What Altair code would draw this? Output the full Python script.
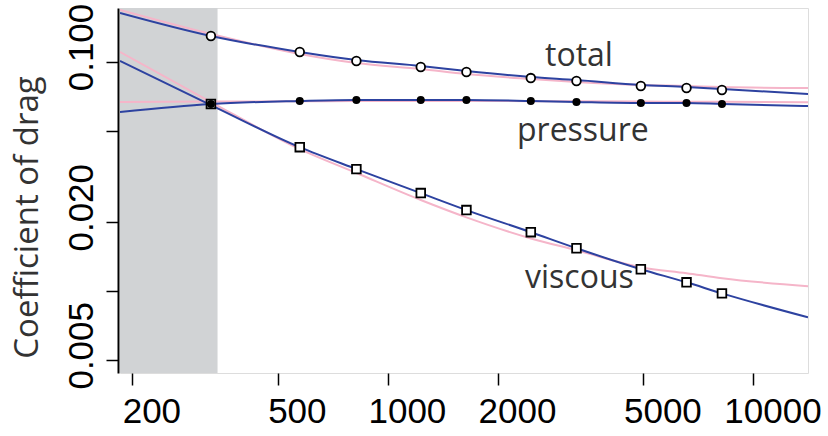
import altair as alt
import pandas as pd

# Measured drag coefficients against Reynolds number
re_obs = [328, 574, 820, 1230, 1640, 2460, 3280, 4920, 6560, 8200]
cd_total = [0.1299, 0.1106, 0.1010, 0.0951, 0.0904, 0.0851, 0.0826, 0.0786, 0.0770, 0.0755]
cd_pressure = [0.0656, 0.0676, 0.0683, 0.0683, 0.0683, 0.0676, 0.0669, 0.0662, 0.0662, 0.0656]
cd_viscous = [0.0656, 0.0425, 0.0341, 0.0268, 0.0226, 0.0181, 0.0154, 0.01248, 0.01094, 0.00979]

# Two fitted models evaluated across the plotted range
re_fit = [185, 328, 574, 820, 1230, 1640, 2460, 3280, 4920, 6560, 8200, 14100]
model_a = {
    "total": [0.1637, 0.1299, 0.1106, 0.1020, 0.0960, 0.0913, 0.0860, 0.0835, 0.0794, 0.0778, 0.0762, 0.0725],
    "pressure": [0.0605, 0.0656, 0.0676, 0.0683, 0.0683, 0.0683, 0.0676, 0.0669, 0.0662, 0.0662, 0.0656, 0.0642],
    "viscous": [0.1010, 0.0649, 0.0425, 0.0341, 0.0268, 0.0226, 0.0181, 0.0154, 0.01248, 0.01094, 0.00979, 0.00770],
}
model_b = {
    "total": [0.1686, 0.1325, 0.1084, 0.0990, 0.0932, 0.0886, 0.0843, 0.0818, 0.0794, 0.0786, 0.0778, 0.0770],
    "pressure": [0.0669, 0.0672, 0.0674, 0.0676, 0.0676, 0.0676, 0.0675, 0.0674, 0.0672, 0.0671, 0.0670, 0.0668],
    "viscous": [0.1106, 0.0669, 0.0417, 0.0328, 0.0250, 0.0210, 0.0170, 0.0151, 0.01273, 0.01199, 0.01140, 0.01052],
}

# Low-Reynolds range excluded from the fit
re_excluded = [185, 342]

x_ticks = [200, 500, 1000, 2000, 5000, 10000]
y_ticks = [0.005, 0.01, 0.02, 0.05, 0.1]
y_labelled = ["0.100", "0.020", "0.005"]

x_domain = [185, 14100]
y_domain = [0.0044, 0.172]

# Curve labels
label_text = ["total", "pressure", "viscous"]
label_re = [2690, 2255, 2372]
label_cd = [0.0960, 0.0452, 0.0103]

obs = pd.DataFrame({
    "re": re_obs * 3,
    "cd": cd_total + cd_pressure + cd_viscous,
    "component": ["total"] * 10 + ["pressure"] * 10 + ["viscous"] * 10,
})

fit_rows = []
for model_name, model in (("b", model_b), ("a", model_a)):
    for comp, vals in model.items():
        for r, c in zip(re_fit, vals):
            fit_rows.append({"re": r, "cd": c, "component": comp, "model": model_name})
fits = pd.DataFrame(fit_rows)

band = pd.DataFrame({"x1": [re_excluded[0]], "x2": [re_excluded[1]],
                     "y1": [y_domain[0]], "y2": [y_domain[1]]})
labels = pd.DataFrame({"re": label_re, "cd": label_cd, "text": label_text})

label_expr = ("indexof(" + str(y_labelled).replace("'", '"') +
              ", format(datum.value, '.3f')) >= 0 ? format(datum.value, '.3f') : ''")

x_scale = alt.Scale(type="log", domain=x_domain, nice=False)
y_scale = alt.Scale(type="log", domain=y_domain, nice=False)

x_axis = alt.Axis(
    values=x_ticks, format="d", title=None, grid=False, domain=False,
    labelFont="Liberation Sans", labelFontSize=35, labelColor="black",
    tickSize=12, tickColor="black", tickWidth=1.5, labelPadding=9,
    labelOffset=19, labelFlush=False, labelOverlap=False, labelBaseline="top",
)
y_axis = alt.Axis(
    values=y_ticks, labelExpr=label_expr, grid=False,
    domain=True, domainColor="black", domainWidth=2, offset=2,
    labelFont="Liberation Sans", labelFontSize=35, labelColor="black",
    labelAngle=270, labelAlign="center", labelBaseline="alphabetic",
    labelPadding=14, labelOffset=-15, labelFlush=False, labelOverlap=False,
    tickSize=12, tickColor="black", tickWidth=1.5,
    title="Coefficient of drag", titleFont="Open Sans", titleFontSize=33,
    titleFontWeight="normal", titleColor="#333333", titleAngle=270,
    titleAlign="center", titleBaseline="alphabetic", titleX=-81, titleY=209,
)

x_enc = alt.X("re:Q", scale=x_scale, axis=x_axis)
y_enc = alt.Y("cd:Q", scale=y_scale, axis=y_axis)

shade = alt.Chart(band).mark_rect(color="#d1d3d5").encode(
    x=alt.X("x1:Q", scale=x_scale, axis=x_axis), x2="x2:Q",
    y=alt.Y("y1:Q", scale=y_scale, axis=y_axis), y2="y2:Q",
)

pink = alt.Chart(fits[fits.model == "b"]).mark_line(
    color="#f5b5c9", strokeWidth=2, interpolate="monotone", clip=True
).encode(x=x_enc, y=y_enc, detail="component:N")

blue = alt.Chart(fits[fits.model == "a"]).mark_line(
    color="#2d42a0", strokeWidth=2, interpolate="monotone", clip=True
).encode(x=x_enc, y=y_enc, detail="component:N")

pts_total = alt.Chart(obs[obs.component == "total"]).mark_point(
    shape="circle", size=75, filled=False, fill="white", fillOpacity=1,
    stroke="black", strokeWidth=1.8, opacity=1
).encode(x=x_enc, y=y_enc)

pts_viscous = alt.Chart(obs[obs.component == "viscous"]).mark_point(
    shape="square", size=75, filled=False, fill="white", fillOpacity=1,
    stroke="black", strokeWidth=1.8, opacity=1
).encode(x=x_enc, y=y_enc)

pts_pressure = alt.Chart(obs[obs.component == "pressure"]).mark_point(
    shape="circle", size=65, filled=True, color="black", opacity=1
).encode(x=x_enc, y=y_enc)

text = alt.Chart(labels).mark_text(
    font="Open Sans", fontSize=32, color="#333333", align="left", baseline="alphabetic"
).encode(x=x_enc, y=y_enc, text="text:N")

chart = alt.layer(
    shade, pink, blue, pts_total, pts_viscous, pts_pressure, text
).properties(
    width=688, height=365,
    autosize=alt.AutoSizeParams(type="none"),
    padding={"left": 120, "top": 8, "right": 20, "bottom": 63},
).configure_view(
    stroke="black", strokeWidth=2
).configure(background="white")

chart.save("out.html", embed_options={"renderer": "svg", "actions": False})
